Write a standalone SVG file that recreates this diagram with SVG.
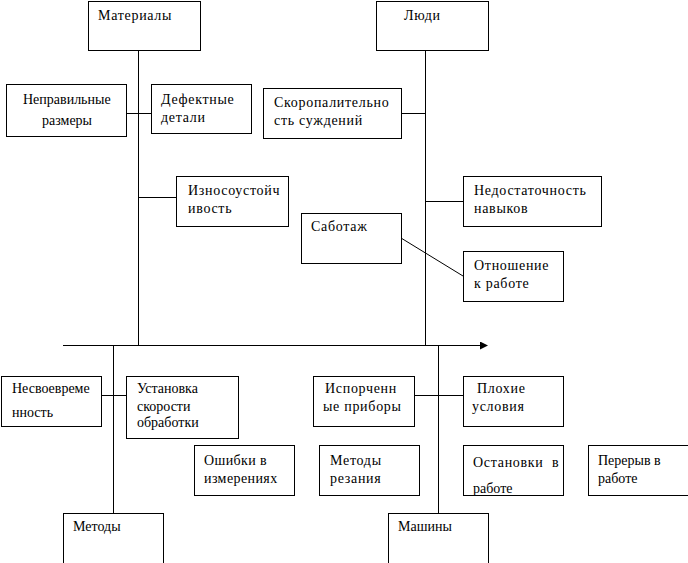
<svg xmlns="http://www.w3.org/2000/svg" width="688" height="563" viewBox="0 0 688 563">
<style>
rect{fill:#fff;stroke:#000;stroke-width:1}
line{stroke:#000;stroke-width:1}
text{font-family:'Liberation Serif','DejaVu Serif',serif;font-size:14px;letter-spacing:0.7px;fill:#000}
text.n{letter-spacing:0}
</style>
<defs>
<marker id="arr" markerWidth="8" markerHeight="8" refX="7" refY="4" orient="auto" markerUnits="userSpaceOnUse">
<path d="M0,0 L8,4 L0,8 Z" fill="#000"/>
</marker>
</defs>
<rect x="0" y="0" width="688" height="563" style="stroke:none"/>
<g id="connectors">
<line x1="63" y1="345.5" x2="487" y2="345.5" marker-end="url(#arr)"/>
<line x1="138.5" y1="50" x2="138.5" y2="345"/>
<line x1="425.5" y1="50" x2="425.5" y2="345"/>
<line x1="113.5" y1="345" x2="113.5" y2="513"/>
<line x1="438.5" y1="345" x2="438.5" y2="513"/>
<line x1="126" y1="113.5" x2="151" y2="113.5"/>
<line x1="138" y1="197.5" x2="176" y2="197.5"/>
<line x1="401" y1="113.5" x2="425" y2="113.5"/>
<line x1="425" y1="201.5" x2="463" y2="201.5"/>
<line x1="401" y1="238" x2="463" y2="276"/>
<line x1="101" y1="395.5" x2="126" y2="395.5"/>
<line x1="413" y1="395.5" x2="463" y2="395.5"/>
</g>
<g font-family="Liberation Serif, serif">
<g id="materials"><rect x="88.5" y="1.5" width="112" height="49"/><text x="98" y="20">Материалы</text></g>
<g id="people"><rect x="376.5" y="1.5" width="112" height="49"/><text x="404" y="20">Люди</text></g>
<g id="wrong-size"><rect x="6.5" y="84.5" width="120" height="52"/><text class="n" x="23" y="104">Неправильные</text><text class="n" x="42" y="125">размеры</text></g>
<g id="defect"><rect x="151.5" y="84.5" width="100" height="49"/><text x="161" y="104">Дефектные</text><text x="161" y="122">детали</text></g>
<g id="wear"><rect x="176.5" y="176.5" width="112" height="50"/><text x="188" y="195">Износоустойч</text><text x="188" y="213">ивость</text></g>
<g id="hasty"><rect x="263.5" y="88.5" width="138" height="50"/><text x="274" y="107">Скоропалительно</text><text x="274" y="125">сть суждений</text></g>
<g id="skills"><rect x="463.5" y="176.5" width="138" height="50"/><text x="474" y="195">Недостаточность</text><text x="474" y="213">навыков</text></g>
<g id="sabotage"><rect x="301.5" y="213.5" width="100" height="50"/><text x="311" y="231">Саботаж</text></g>
<g id="attitude"><rect x="463.5" y="251.5" width="100" height="50"/><text x="474" y="270">Отношение</text><text x="474" y="288">к работе</text></g>
<g id="untimely"><rect x="1.5" y="376.5" width="100" height="50"/><text class="n" x="12" y="393">Несвоевреме</text><text class="n" x="12" y="417">нность</text></g>
<g id="speed"><rect x="126.5" y="376.5" width="112" height="62"/><text class="n" x="137" y="393">Установка</text><text class="n" x="137" y="411">скорости</text><text class="n" x="137" y="427">обработки</text></g>
<g id="errors"><rect x="194.5" y="445.5" width="100" height="50"/><text x="204" y="465" style="letter-spacing:0.4px">Ошибки в</text><text x="204" y="483" style="letter-spacing:0.4px">измерениях</text></g>
<g id="methods"><rect x="63.5" y="513.5" width="100" height="52"/><text class="n" x="73" y="531">Методы</text></g>
<g id="instruments"><rect x="313.5" y="376.5" width="101" height="50"/><text x="325" y="393">Испорченн</text><text x="323" y="411">ые приборы</text></g>
<g id="conditions"><rect x="463.5" y="376.5" width="100" height="50"/><text x="477" y="393">Плохие</text><text x="472" y="411">условия</text></g>
<g id="cutting"><rect x="319.5" y="445.5" width="100" height="50"/><text x="330" y="465">Методы</text><text x="330" y="483">резания</text></g>
<g id="stops"><rect x="463.5" y="445.5" width="100" height="50"/><text x="473" y="467" xml:space="preserve">Остановки  в</text><text class="n" x="473" y="493">работе</text></g>
<g id="breaks"><rect x="588.5" y="445.5" width="100" height="50"/><text class="n" x="598" y="465">Перерыв в</text><text class="n" x="598" y="483">работе</text></g>
<g id="machines"><rect x="388.5" y="513.5" width="100" height="52"/><text class="n" x="398" y="531">Машины</text></g>
</g>
</svg>
